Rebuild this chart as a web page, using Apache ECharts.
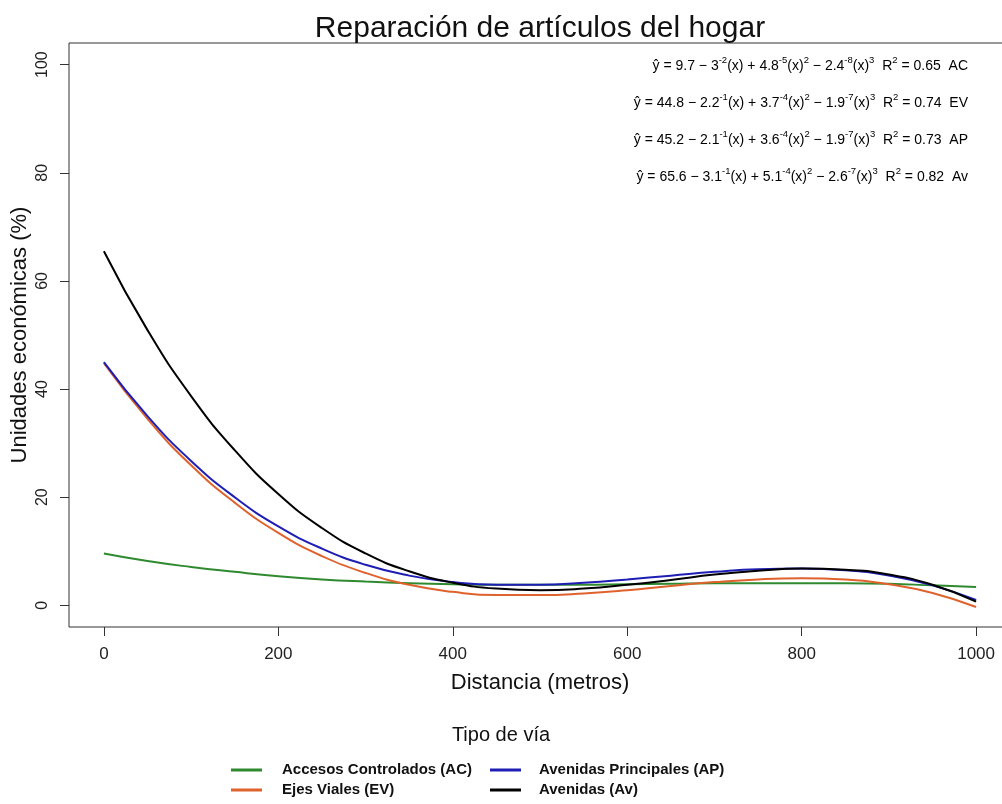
<!DOCTYPE html>
<html>
<head>
<meta charset="utf-8">
<title>Reparación de artículos del hogar</title>
<script src="https://cdn.jsdelivr.net/npm/echarts@6/dist/echarts.min.js"></script>
<style>
  html, body { margin: 0; padding: 0; background: #ffffff; }
  #chart { width: 1002px; height: 804px; }
</style>
</head>
<body>
<div id="chart"></div>
<script>
// Distance from the road (metres), sampled every 50 m
const distancia = [0, 50, 100, 150, 200, 250, 300, 350, 400, 450, 500,
                   550, 600, 650, 700, 750, 800, 850, 900, 950, 1000];

// Fitted share of economic units (%) for each road type
const accesosControlados = [9.6, 8.2, 7.1, 6.2, 5.4, 4.8, 4.4, 4.1, 3.9, 3.8, 3.8,
                            3.8, 3.9, 4.0, 4.1, 4.1, 4.1, 4.1, 4.0, 3.7, 3.4];
const ejesViales = [44.8, 34.5, 25.9, 19.0, 13.4, 9.1, 6.0, 3.8, 2.5, 1.9, 1.9,
                    2.2, 2.8, 3.6, 4.3, 4.8, 5.0, 4.8, 3.9, 2.3, -0.3];
const avenidasPrincipales = [45.0, 35.0, 26.7, 20.0, 14.6, 10.5, 7.5, 5.5, 4.3, 3.8, 3.8,
                             4.2, 4.8, 5.5, 6.2, 6.7, 6.8, 6.5, 5.5, 3.7, 1.0];
const avenidas = [65.5, 50.9, 38.7, 28.7, 20.6, 14.3, 9.6, 6.3, 4.2, 3.1, 2.8,
                  3.1, 3.8, 4.7, 5.7, 6.4, 6.8, 6.6, 5.7, 3.8, 0.7];

// Tick positions
const xTicks = [0, 200, 400, 600, 800, 1000];
const yTicks = [0, 20, 40, 60, 80, 100];

// Series names and colours
const seriesNames = ['Accesos Controlados (AC)', 'Ejes Viales (EV)',
                     'Avenidas Principales (AP)', 'Avenidas (Av)'];
const seriesColors = ['#2f8a2f', '#df622c', '#1e1eb4', '#000000'];

// Regression equations printed in the top-right corner:
// [intercept, b1, e1, b2, e2, b3, e3, R2, code]
const ecuaciones = [
  ['9.7', '3', '-2', '4.8', '-5', '2.4', '-8', '0.65', 'AC'],
  ['44.8', '2.2', '-1', '3.7', '-4', '1.9', '-7', '0.74', 'EV'],
  ['45.2', '2.1', '-1', '3.6', '-4', '1.9', '-7', '0.73', 'AP'],
  ['65.6', '3.1', '-1', '5.1', '-4', '2.6', '-7', '0.82', 'Av']
];

const chart = echarts.init(document.getElementById('chart'), null, { renderer: 'canvas' });

const FONT = '"Liberation Sans", Arial, sans-serif';

function pairs(ys) {
  return distancia.map((d, i) => [d, ys[i]]);
}

const valores = [accesosControlados, ejesViales, avenidasPrincipales, avenidas];

const series = valores.map((ys, i) => ({
  name: seriesNames[i],
  type: 'line',
  data: pairs(ys),
  smooth: true,
  symbol: 'none',
  clip: false,
  lineStyle: { color: seriesColors[i], width: 2 },
  itemStyle: { color: seriesColors[i] },
  emphasis: { disabled: true },
  z: 2 + i
}));

// Equation block: rich text with superscripts
function eqText(e) {
  return '{t|ŷ = ' + e[0] + ' − ' + e[1] + '}{s|' + e[2] + '}{t|(x) + ' + e[3] + '}{s|' + e[4] +
         '}{t|(x)}{s|2}{t| − ' + e[5] + '}{s|' + e[6] + '}{t|(x)}{s|3}{t|  R}{s|2}{t| = ' + e[7] +
         '  ' + e[8] + '}';
}
const richEq = {
  t: { fontFamily: FONT, fontSize: 14, color: '#111', lineHeight: 18, verticalAlign: 'bottom' },
  s: { fontFamily: FONT, fontSize: 9.5, color: '#111', lineHeight: 18, verticalAlign: 'top', padding: [0, 0, 7, 0] }
};

const graphics = ecuaciones.map((e, i) => ({
  type: 'text',
  right: 34,
  top: 55 + i * 37,
  style: {
    text: eqText(e),
    rich: richEq,
    textAlign: 'right'
  },
  silent: true
}));

graphics.push({
  type: 'text',
  left: 'center',
  top: 725,
  style: { text: 'Tipo de vía', fontFamily: FONT, fontSize: 20, fill: '#111' },
  silent: true
});

const legendBase = {
  orient: 'vertical',
  top: 761,
  padding: 0,
  itemWidth: 31, itemHeight: 3, itemGap: 2,
  icon: 'rect',
  selectedMode: false
};

const option = {
  backgroundColor: '#ffffff',
  animation: false,
  title: {
    text: 'Reparación de artículos del hogar',
    left: 535,
    textAlign: 'center',
    top: 9,
    textStyle: { fontFamily: FONT, fontSize: 30, fontWeight: 'normal', color: '#111' }
  },
  grid: {
    left: 69, top: 43, width: 942, height: 584,
    outerBoundsMode: 'none',
    containLabel: false,
    show: true, borderColor: '#333', borderWidth: 1, backgroundColor: 'transparent'
  },
  xAxis: {
    type: 'value',
    min: -40, max: 1040,
    name: 'Distancia (metros)',
    nameLocation: 'middle',
    nameGap: 45,
    nameMoveOverlap: false,
    nameTextStyle: { fontFamily: FONT, fontSize: 22, color: '#111' },
    axisLine: { show: false, onZero: false },
    splitLine: { show: false },
    axisTick: { show: true, inside: false, length: 9, customValues: xTicks, lineStyle: { color: '#333' } },
    axisLabel: {
      customValues: xTicks, margin: 19,
      formatter: v => String(v),
      fontFamily: FONT, fontSize: 17, color: '#222'
    }
  },
  yAxis: {
    type: 'value',
    min: -4, max: 104,
    name: 'Unidades económicas (%)',
    nameLocation: 'middle',
    nameGap: 38,
    nameMoveOverlap: false,
    nameTextStyle: { fontFamily: FONT, fontSize: 22, color: '#111' },
    axisLine: { show: false, onZero: false },
    splitLine: { show: false },
    axisTick: { show: true, inside: false, length: 9, customValues: yTicks, lineStyle: { color: '#333' } },
    axisLabel: {
      customValues: yTicks, rotate: 90, margin: 18,
      formatter: v => String(v),
      fontFamily: FONT, fontSize: 16, color: '#222'
    }
  },
  legend: [
    Object.assign({}, legendBase, {
      data: [seriesNames[0], seriesNames[1]],
      left: 231,
      textStyle: { fontFamily: FONT, fontSize: 15, fontWeight: 'bold', color: '#111', lineHeight: 18, padding: [0, 0, 0, 15] }
    }),
    Object.assign({}, legendBase, {
      data: [seriesNames[2], seriesNames[3]],
      left: 490,
      textStyle: { fontFamily: FONT, fontSize: 15, fontWeight: 'bold', color: '#111', lineHeight: 18, padding: [0, 0, 0, 13] }
    })
  ],
  graphic: graphics,
  series: series
};

chart.setOption(option);
</script>
</body>
</html>
